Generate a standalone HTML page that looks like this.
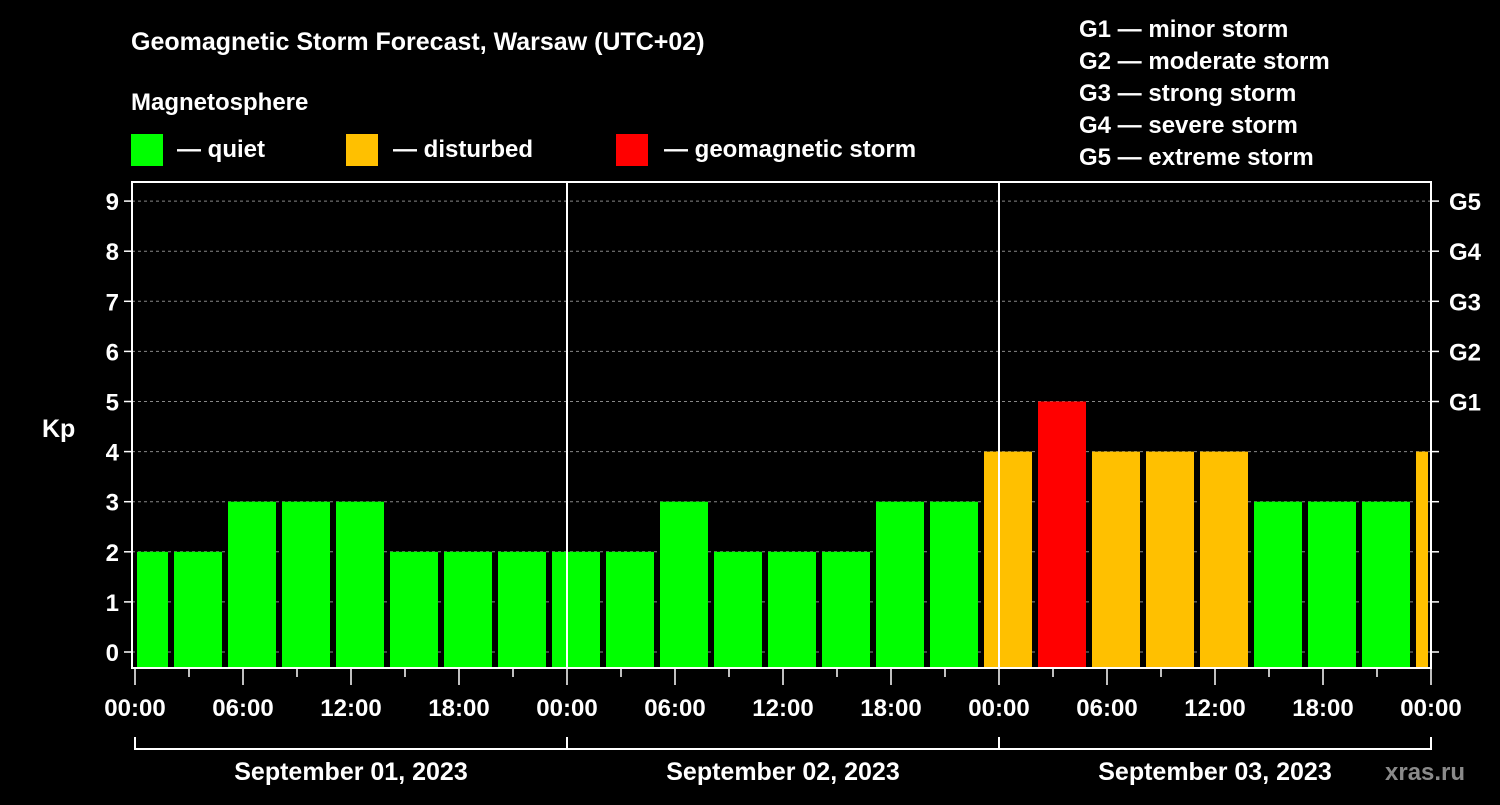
<!DOCTYPE html>
<html><head><meta charset="utf-8"><style>
body{margin:0;background:#000;width:1500px;height:800px;overflow:hidden}
svg text{font-family:"Liberation Sans",sans-serif;font-weight:bold;fill:#fff}
</style></head><body>
<svg id="chart" width="1500" height="800">
<text x="131" y="50" font-size="25">Geomagnetic Storm Forecast, Warsaw (UTC+02)</text>
<text x="131" y="110" font-size="24">Magnetosphere</text>
<rect x="131" y="134" width="32" height="32" fill="#00ff00"/>
<text x="177" y="157" font-size="24">— quiet</text>
<rect x="346" y="134" width="32" height="32" fill="#ffc000"/>
<text x="393" y="157" font-size="24">— disturbed</text>
<rect x="616" y="134" width="32" height="32" fill="#ff0000"/>
<text x="664" y="157" font-size="24">— geomagnetic storm</text>
<g font-size="24">
<text x="1079" y="37">G1 — minor storm</text>
<text x="1079" y="69">G2 — moderate storm</text>
<text x="1079" y="101">G3 — strong storm</text>
<text x="1079" y="133">G4 — severe storm</text>
<text x="1079" y="165">G5 — extreme storm</text>
</g>
<text x="42" y="437" font-size="25">Kp</text>
<text x="1385" y="780" font-size="24" fill="#888" style="fill:#8a8a8a">xras.ru</text>
<g id="grid"></g><g id="bars"></g><g id="axes"></g>
</svg>
<script>
const kpValues=[2,2,3,3,3,2,2,2,2,2,3,2,2,2,3,3,4,5,4,4,4,3,3,3,4];
const startHour=-1;
const yTicks=[0,1,2,3,4,5,6,7,8,9];
const gLabels=["G1","G2","G3","G4","G5"];
const gLevels=[5,6,7,8,9];
const xTickLabels=["00:00","06:00","12:00","18:00"];
const dayLabels=["September 01, 2023","September 02, 2023","September 03, 2023"];
const NS="http://www.w3.org/2000/svg";
const X0=135,PX_H=18,Y0=652,PX_K=50.1,L=132,R=1431,T=182,B=668;
const x=h=>X0+h*PX_H, y=v=>Y0-v*PX_K;
function mk(tag,attrs,parent,txt){const e=document.createElementNS(NS,tag);for(const k in attrs)e.setAttribute(k,attrs[k]);if(txt!==undefined)e.textContent=txt;document.getElementById(parent).appendChild(e);return e;}
yTicks.forEach(v=>{
 const g=mk('line',{x1:L,x2:R,y1:y(v),y2:y(v),stroke:'#888','stroke-dasharray':'3,3','stroke-width':1},'grid');
 
 
 const t=mk('text',{x:L-13,y:y(v)+9,'font-size':24,'text-anchor':'end'},'axes',String(v));
 
 
 const a=mk('line',{x1:L-8,x2:L,y1:y(v),y2:y(v),stroke:'#fff','stroke-width':1.5},'axes');
 
 
 const b=mk('line',{x1:R,x2:R+8,y1:y(v),y2:y(v),stroke:'#fff','stroke-width':1.5},'axes');
 
 
});
gLevels.forEach((v,i)=>{
 const t=mk('text',{x:R+18,y:y(v)+9,'font-size':24},'axes',gLabels[i]);
 
 
});
kpValues.forEach((v,i)=>{
 const h0=startHour+3*i;
 let x1=x(h0)+3,x2=x(h0+3)-3;
 x1=Math.max(x1,x(0)+2);x2=Math.min(x2,R-3);
 const c=v>=5?'#ff0000':v>=4?'#ffc000':'#00ff00';
 const r=mk('rect',{x:x1,y:y(v),width:x2-x1,height:B-y(v),fill:c},'bars');
 
 
});
const f=mk('rect',{x:L,y:T,width:R-L,height:B-T,fill:'none',stroke:'#fff','stroke-width':2},'axes');


for(let d=1;d<3;d++){
 const l=mk('line',{x1:x(24*d),x2:x(24*d),y1:T,y2:B,stroke:'#fff','stroke-width':2},'axes');
 
 
}
for(let h=0;h<=72;h+=3){
 const major=h%6===0;
 const tk=mk('line',{x1:x(h),x2:x(h),y1:B,y2:B+(major?17:9),stroke:'#fff','stroke-width':1.5},'axes');
 
 
 if(major){
  const t=mk('text',{x:x(h),y:716,'font-size':24,'text-anchor':'middle'},'axes',xTickLabels[(h/6)%4]);
  
  
 }
}
dayLabels.forEach((s,d)=>{
 const p=mk('path',{d:`M${x(24*d)},737V749H${x(24*d+24)}V737`,fill:'none',stroke:'#fff','stroke-width':2},'axes');
 
 
 const t=mk('text',{x:x(24*d+12),y:780,'font-size':25,'text-anchor':'middle'},'axes',s);
 
 
});
</script>
</body></html>
